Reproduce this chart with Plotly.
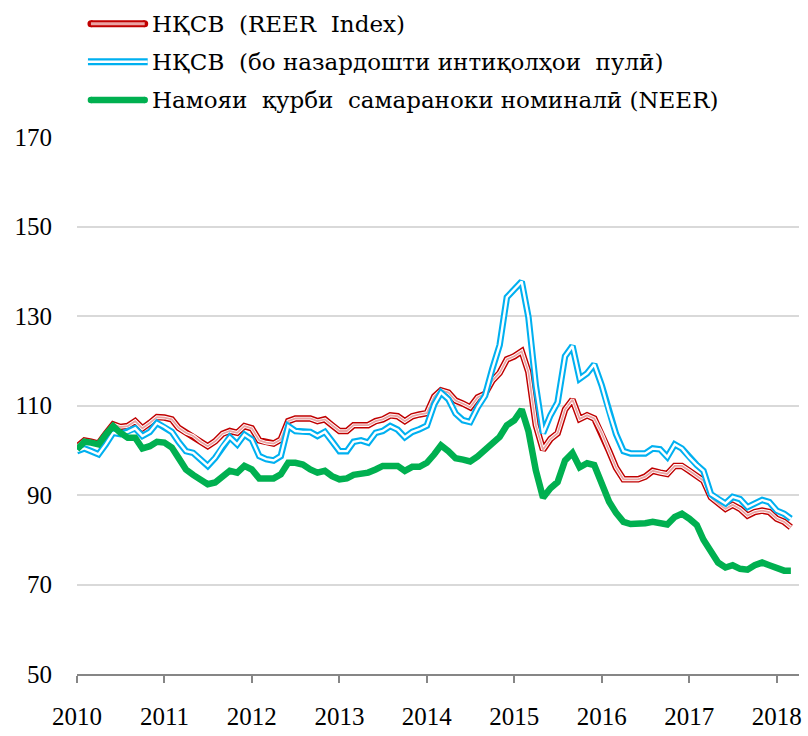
import pandas as pd
import plotly.graph_objects as go

dates = pd.date_range("2010-01-01", periods=99, freq="MS")

reer = [100.8, 102.2, 101.9, 101.5, 103.7, 105.8, 105.2, 105.4, 106.5, 104.9,
        106.1, 107.4, 107.3, 106.9, 105.0, 103.9, 103.2, 101.9, 100.9, 102.0,
        103.7, 104.3, 103.9, 105.4, 104.9, 102.2, 101.7, 101.5, 102.4, 106.5,
        107.1, 107.1, 107.1, 106.5, 106.9, 105.6, 104.3, 104.3, 105.6, 105.6,
        105.6, 106.5, 106.9, 107.8, 107.6, 106.5, 107.6, 108.0, 108.3, 112.0,
        113.4, 112.9, 111.1, 110.4, 109.6, 111.8, 112.6, 115.5, 117.3, 120.3,
        121.0, 122.1, 117.5, 105.6, 100.1, 102.5, 103.8, 109.1, 111.3, 107.0,
        107.8, 107.1, 103.8, 99.8, 96.1, 93.5, 93.5, 93.5, 94.1, 95.4,
        95.0, 94.7, 96.5, 96.5, 95.4, 94.3, 93.2, 89.5, 88.1, 86.9,
        87.8, 86.9, 85.4, 86.2, 86.5, 86.2, 84.7, 84.0, 82.8]

reer_money = [99.8, 100.4, 99.8, 99.1, 101.3, 103.9, 103.6, 104.1, 104.9, 103.2,
              104.1, 106.1, 105.2, 104.1, 101.9, 99.8, 99.4, 98.0, 96.5, 98.3,
              100.9, 102.9, 101.3, 103.5, 102.4, 98.7, 98.0, 97.7, 98.7, 105.4,
              104.3, 104.1, 104.1, 103.2, 104.1, 102.0, 99.8, 99.8, 101.9, 102.2,
              101.7, 103.9, 104.3, 105.4, 104.6, 102.9, 104.1, 104.7, 105.5, 110.3,
              112.9, 111.4, 108.2, 106.7, 106.3, 109.6, 112.2, 118.1, 123.5, 134.2,
              136.0, 137.7, 129.8, 114.4, 103.8, 107.8, 110.7, 121.0, 123.3, 116.0,
              117.2, 119.2, 114.5, 108.5, 103.6, 99.8, 99.3, 99.3, 99.3, 100.4,
              100.2, 98.5, 101.3, 100.4, 98.4, 96.7, 95.4, 90.2, 89.1, 88.1,
              89.6, 89.1, 87.3, 88.0, 88.9, 88.4, 86.5, 85.8, 84.7]

neer = [100.2, 101.9, 101.7, 101.3, 103.5, 105.4, 103.9, 102.8, 102.8, 100.4,
        100.9, 101.9, 101.7, 100.6, 98.3, 95.7, 94.5, 93.5, 92.4, 92.8,
        94.0, 95.4, 95.0, 96.5, 95.7, 93.7, 93.7, 93.7, 94.6, 97.2,
        97.2, 96.8, 95.7, 95.0, 95.4, 94.2, 93.5, 93.7, 94.5, 94.6,
        95.0, 95.7, 96.5, 96.5, 96.5, 95.4, 96.3, 96.3, 97.2, 99.1,
        101.1, 99.8, 98.2, 97.9, 97.5, 98.6, 100.1, 101.6, 103.0, 105.6,
        106.7, 109.1, 104.3, 95.5, 89.4, 91.5, 92.9, 97.7, 99.4, 96.2,
        97.1, 96.7, 93.0, 88.5, 86.0, 84.0, 83.5, 83.5, 83.7, 84.0,
        83.8, 83.4, 85.1, 85.8, 84.7, 83.3, 80.0, 77.1, 74.9, 73.8,
        74.3, 73.5, 73.3, 74.3, 74.9, 74.3, 73.6, 73.1, 73.1]

names = ["НҚСВ  (REER  Index)",
         "НҚСВ  (бо назардошти интиқолҳои  пулӣ)",
         "Намояи  қурби  самараноки номиналӣ (NEER)"]

RED = "#C00000"
RED_IN = "#EBA3A3"
BLUE = "#00B0F0"
GREEN = "#00B050"
TICK_FONT = "Liberation Serif"
LEG_FONT = "DejaVu Serif"

fig = go.Figure()

def add_line(y, color, width, name):
    fig.add_trace(go.Scatter(x=dates, y=y, mode="lines", name=name,
                             line=dict(color=color, width=width),
                             showlegend=False, hoverinfo="skip"))

# REER: compound line
add_line(reer, RED, 6.5, names[0])
add_line(reer, "white", 3.6, names[0])
add_line(reer, RED_IN, 1.8, names[0])
# REER with remittances: double line
add_line(reer_money, BLUE, 6.5, names[1])
add_line(reer_money, "white", 2.4, names[1])
# NEER
add_line(neer, GREEN, 6.5, names[2])

# custom legend
W_PLOT = 725.0
H_PLOT = 550.0
L, T = 77, 137

def px_x(px):
    return (px - L) / W_PLOT

def px_y(py):
    return (T + H_PLOT - py) / H_PLOT

legend_rows = [21, 60, 99]
layers = [
    [(RED, 7), (RED_IN, 3)],
    [(BLUE, 7), ("white", 2.4)],
    [(GREEN, 6.5)],
]
caps = [RED, None, GREEN]
for row_y, lay, nm, cap in zip(legend_rows, layers, names, caps):
    x0, x1 = (91, 145) if cap else (88, 148)
    if cap:
        for cx in (x0, x1):
            r = lay[0][1] / 2
            fig.add_shape(type="circle", xref="paper", yref="paper",
                          xsizemode="pixel", ysizemode="pixel",
                          xanchor=px_x(cx), yanchor=px_y(row_y),
                          x0=-r, x1=r, y0=-r, y1=r,
                          fillcolor=cap, line=dict(width=0))
    for col, wd in lay:
        fig.add_shape(type="line", xref="paper", yref="paper",
                      x0=px_x(x0), x1=px_x(x1), y0=px_y(row_y), y1=px_y(row_y),
                      line=dict(color=col, width=wd))
    fig.add_annotation(xref="paper", yref="paper", x=px_x(150), y=px_y(row_y),
                       xanchor="left", yanchor="middle", showarrow=False,
                       text=nm, font=dict(family=LEG_FONT, size=23, color="black"))

fig.update_layout(
    width=808, height=736,
    margin=dict(l=L, r=6, t=T, b=49),
    paper_bgcolor="white", plot_bgcolor="white",
    font=dict(family=TICK_FONT, size=25, color="black"),
    showlegend=False,
)
fig.update_xaxes(
    type="date",
    range=["2010-01-01", "2018-04-04"],
    tickmode="linear", tick0="2010-01-01", dtick="M12", tickformat="%Y",
    showgrid=False, showline=True, linecolor="#868686", linewidth=1.5,
    ticks="outside", ticklen=7, tickcolor="#868686", tickwidth=1.5,
    ticklabelstandoff=12,
    tickfont=dict(family=TICK_FONT, size=25, color="black"),
    zeroline=False,
)
fig.update_yaxes(
    range=[50, 170], tickmode="linear", tick0=50, dtick=20,
    showgrid=True, gridcolor="#D9D9D9", gridwidth=1.5,
    showline=False, zeroline=False, ticks="",
    ticklabelstandoff=24,
    tickfont=dict(family=TICK_FONT, size=25, color="black"),
)

fig.write_html("out.html", config={"displayModeBar": False},
               post_script="document.body.style.margin='0';")
